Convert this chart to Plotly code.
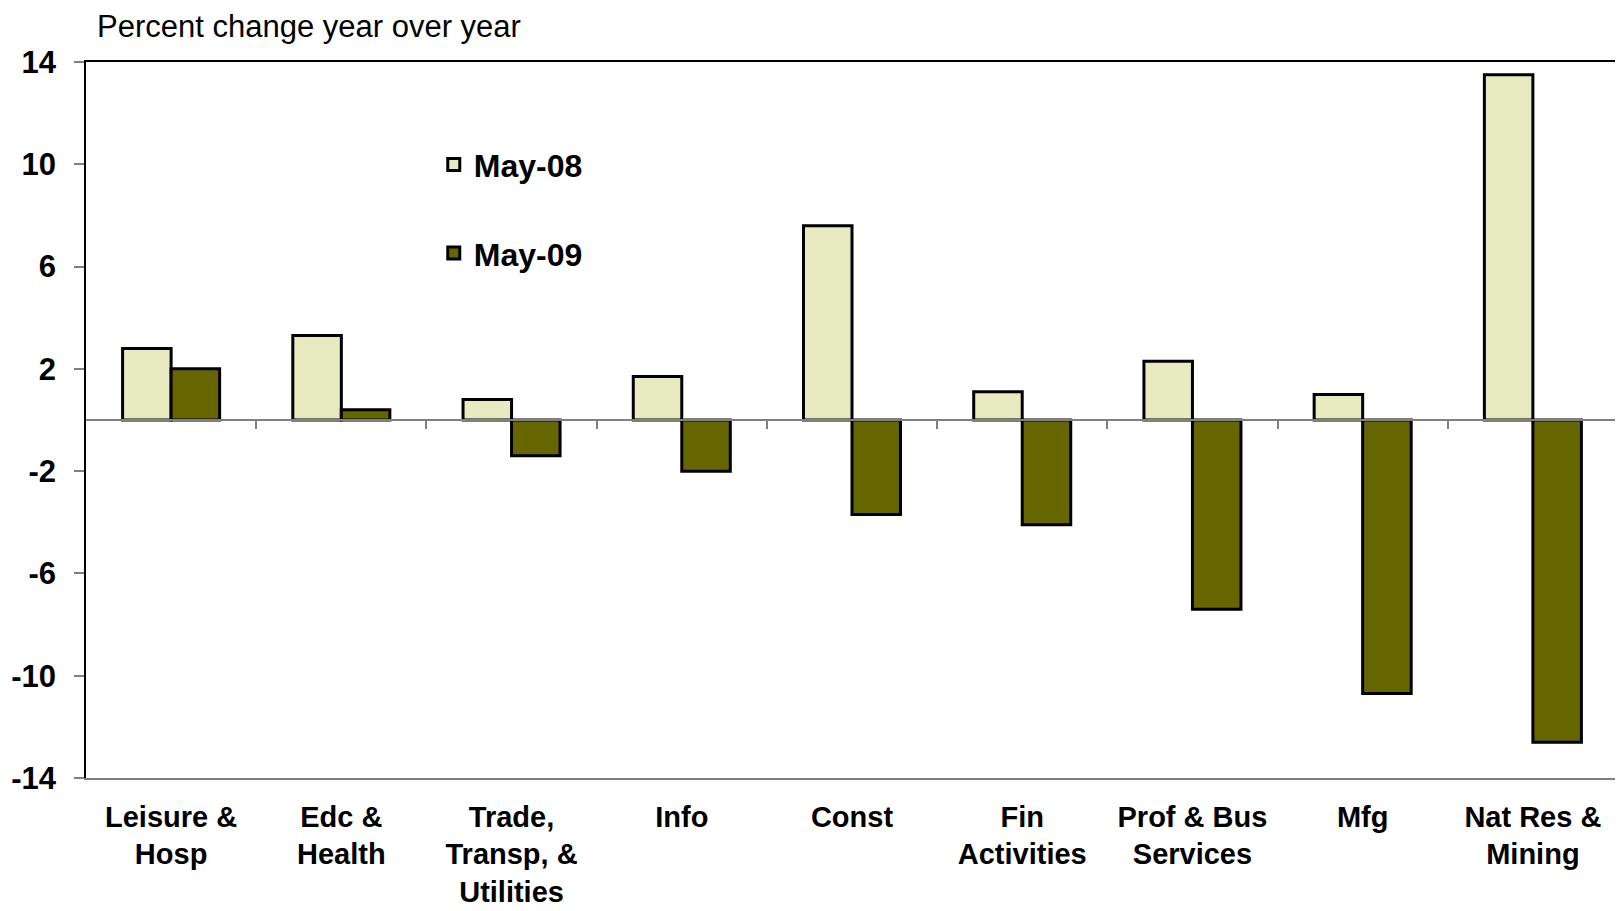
import plotly.graph_objects as go

# Categories and values (percent change year over year)
categories = ["Leisure &<br>Hosp", "Edc &<br>Health", "Trade,<br>Transp, &<br>Utilities",
              "Info", "Const", "Fin<br>Activities", "Prof & Bus<br>Services", "Mfg",
              "Nat Res &<br>Mining"]
may08 = [2.8, 3.3, 0.8, 1.7, 7.6, 1.1, 2.3, 1.0, 13.5]
may09 = [2.0, 0.4, -1.4, -2.0, -3.7, -4.1, -7.4, -10.7, -12.6]
y_ticks = [-14, -10, -6, -2, 2, 6, 10, 14]
y_tick_text = ["-14", "-10", "-6", "-2", "2", "6", "10", "14"]

FONT = "Liberation Sans, Arial, sans-serif"

fig = go.Figure()
fig.add_trace(go.Bar(
    x=categories, y=may08, name="May-08",
    marker=dict(color="#E8EAC0", line=dict(color="black", width=3)),
    legendgroup="a",
))
fig.add_trace(go.Bar(
    x=categories, y=may09, name="May-09",
    marker=dict(color="#666600", line=dict(color="black", width=3)),
    legendgroup="b",
))

# Invisible trace to hold the zero-line axis with category boundary ticks
fig.add_trace(go.Scatter(x=[0.5, 9.5], y=[0, 0], xaxis="x2", mode="lines",
                         line=dict(width=0), showlegend=False, hoverinfo="skip"))
# Invisible trace for the top frame axis
fig.add_trace(go.Scatter(x=[0.5, 9.5], y=[0, 0], xaxis="x3", mode="lines",
                         line=dict(width=0), showlegend=False, hoverinfo="skip"))
# Invisible trace for the right frame axis
fig.add_trace(go.Scatter(x=[categories[0]], y=[0], yaxis="y2", mode="markers",
                         marker=dict(opacity=0), showlegend=False, hoverinfo="skip"))

fig.update_layout(
    width=1623, height=911,
    margin=dict(l=78, r=13, t=54, b=141),
    plot_bgcolor="white", paper_bgcolor="white",
    barmode="group", bargap=0.43, bargroupgap=0,
    font=dict(family=FONT, color="black"),
    showlegend=True,
    legend=dict(
        x=0.227, y=0.895, xanchor="left", yanchor="top",
        bgcolor="rgba(0,0,0,0)",
        font=dict(size=32, family=FONT, weight="bold"),
        tracegroupgap=44,
    ),
    xaxis=dict(
        showline=True, linecolor="#808080", linewidth=1.5, automargin=False,
        ticks="", tickfont=dict(size=29, family=FONT, weight="bold"),
        ticklabelstandoff=12, showgrid=False, zeroline=False,
    ),
    xaxis2=dict(
        overlaying="x", anchor="free", position=0.5, range=[0.5, 9.5],
        showline=True, linecolor="#808080", linewidth=1.5, automargin=False,
        tickvals=[1.5, 2.5, 3.5, 4.5, 5.5, 6.5, 7.5, 8.5],
        ticks="outside", ticklen=8, tickcolor="#808080", tickwidth=1.5,
        showticklabels=False, showgrid=False, zeroline=False,
    ),
    xaxis3=dict(
        overlaying="x", side="top", anchor="y", range=[0.5, 9.5],
        showline=True, linecolor="black", linewidth=1.5, automargin=False,
        ticks="", showticklabels=False, showgrid=False, zeroline=False,
    ),
    yaxis=dict(
        range=[-14, 14], tickvals=y_ticks, ticktext=y_tick_text,
        showline=True, linecolor="black", linewidth=1.5, mirror=False,
        automargin=False,
        ticks="outside", ticklen=10, tickcolor="#808080", tickwidth=1.5,
        ticklabelstandoff=12,
        tickfont=dict(size=31, family=FONT, weight="bold"),
        showgrid=False, zeroline=False,
    ),
    yaxis2=dict(
        overlaying="y", side="right", range=[-14, 14], automargin=False,
        showline=True, linecolor="#808080", linewidth=1.5,
        showticklabels=False, ticks="", showgrid=False, zeroline=False,
    ),
    annotations=[dict(
        text="Percent change year over year", xref="paper", yref="paper",
        x=0.006, y=1.0, xanchor="left", yanchor="middle", yshift=36,
        showarrow=False, font=dict(size=31, family=FONT),
    )],
)

fig.write_html("out.html")
